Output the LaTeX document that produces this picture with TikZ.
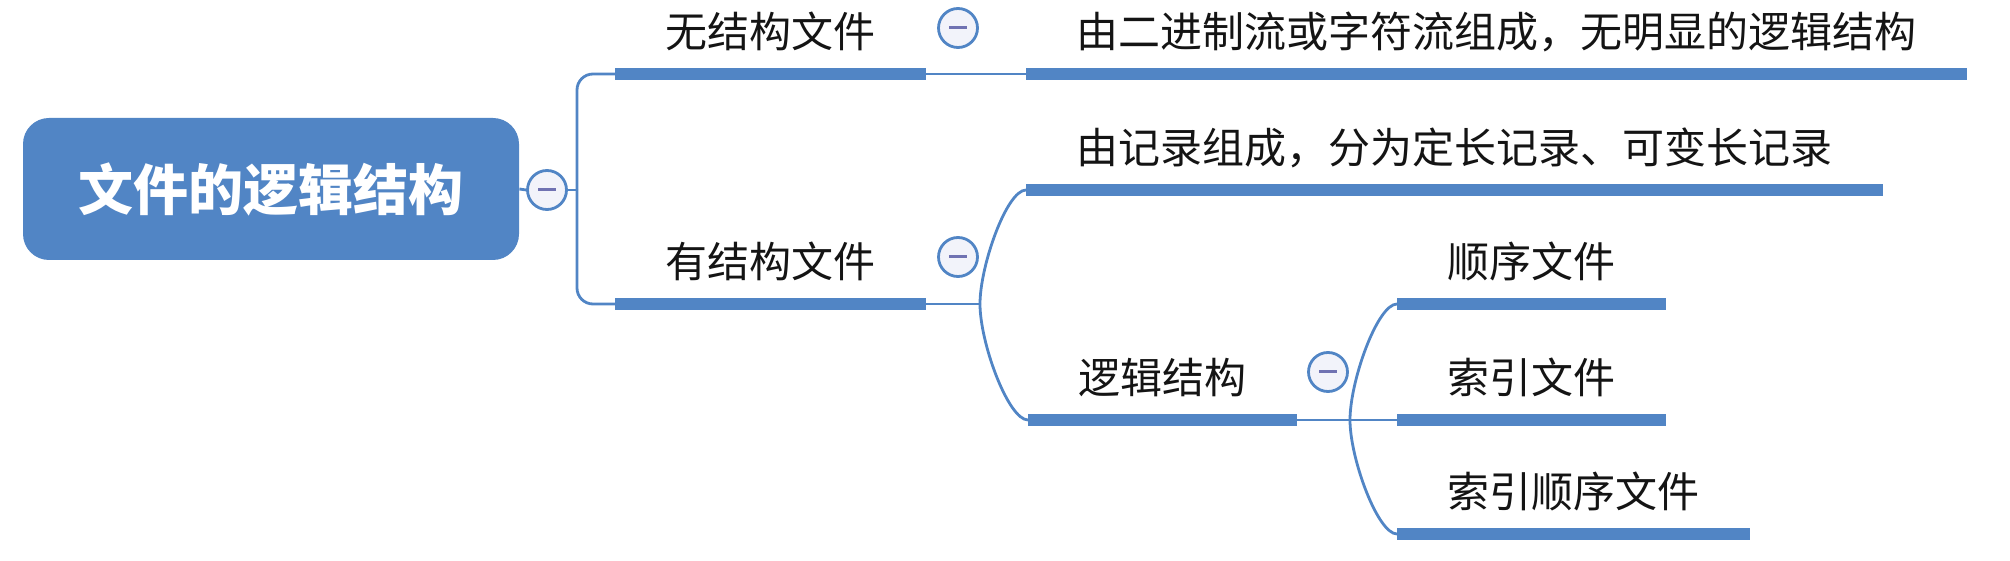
\documentclass[tikz,border=0pt]{standalone}
\usepackage{fontspec}
\newfontfamily\cjk{Noto Sans CJK SC}
\definecolor{mblue}{RGB}{81,133,197}
\definecolor{iconfill}{RGB}{242,243,250}
\definecolor{iconminus}{RGB}{112,114,178}
\definecolor{txt}{RGB}{20,20,20}
\begin{document}
\begin{tikzpicture}[x=0.5pt,y=-0.5pt,
  topic/.style={font=\cjk\fontsize{21pt}{25pt}\selectfont, text=txt, anchor=south west,
    inner xsep=25pt, inner ysep=0pt, text height=19pt, text depth=13pt},
  bar/.style={draw=mblue, line width=6pt, line cap=butt},
  conn/.style={draw=mblue, line width=1.4pt},
  icon/.style={circle, draw=mblue, fill=iconfill, line width=1.4pt, minimum size=19.5pt, inner sep=0pt},
  minus/.style={draw=iconminus, line width=1.5pt},
  rootbox/.style={rectangle, rounded corners=13pt, fill=mblue, text=white,
    font=\cjk\bfseries\fontsize{27.5pt}{32pt}\selectfont, minimum width=248pt, minimum height=71pt, inner sep=0pt}
]
\useasboundingbox (0,0) rectangle (2010,561);

% root
\node[rootbox] (root) at (271,189) {文件的逻辑结构};
\node[icon] (c0) at (547,190) {};
\coordinate (t) at (577,190);

% first level
\node[topic] (b1) at (615,74) {无结构文件};
\node[topic] (b2) at (615,304) {有结构文件};
\node[icon] (c1) at (958,28) {};
\node[icon] (c2) at (958,257) {};

% second level
\node[topic] (l1) at (1026,74) {由二进制流或字符流组成，无明显的逻辑结构};
\node[topic] (l2) at (1026,190) {由记录组成，分为定长记录、可变长记录};
\node[topic] (l3) at (1028,420) {逻辑结构};
\node[icon] (c3) at (1328,372) {};
\coordinate (j1) at (980,304);

% third level
\node[topic] (s1) at (1397,304) {顺序文件};
\node[topic] (s2) at (1397,420) {索引文件};
\node[topic] (s3) at (1397,534) {索引顺序文件};
\coordinate (j2) at (1350,420);

% bars
\foreach \n in {b1,b2,l1,l2,l3,s1,s2,s3}
  \draw[bar] (\n.south west) -- (\n.south east);

% connectors
\draw[conn] (root.east) -- (c0.west);
\draw[conn] (c0.east) -- (t);
\draw[conn, rounded corners=8pt] (t) |- (b1.south west);
\draw[conn, rounded corners=8pt] (t) |- (b2.south west);
\draw[conn] (b1.south east) -- (l1.south west);
\draw[conn] (b2.south east) -- (j1);
\draw[conn] (j1) to[out=90,in=180,out looseness=0.8,in looseness=0.4] (l2.south west);
\draw[conn] (j1) to[out=-90,in=180,out looseness=0.8,in looseness=0.4] (l3.south west);
\draw[conn] (l3.south east) -- (s2.south west);
\draw[conn] (j2) to[out=90,in=180,out looseness=0.8,in looseness=0.4] (s1.south west);
\draw[conn] (j2) to[out=-90,in=180,out looseness=0.8,in looseness=0.4] (s3.south west);

% minus signs
\foreach \c in {c0,c1,c2,c3}
  \draw[minus] ([xshift=-4.5pt]\c.center) -- ([xshift=4.5pt]\c.center);
\end{tikzpicture}
\end{document}
